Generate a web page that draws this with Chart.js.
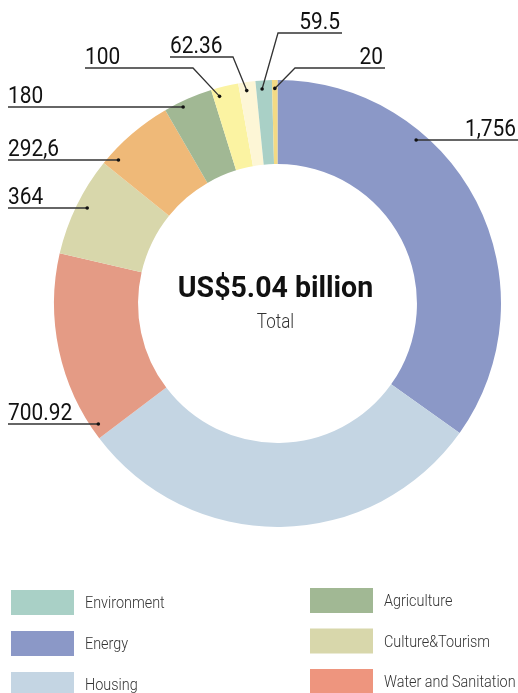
<!DOCTYPE html>
<html>
<head>
  <meta charset="UTF-8">
  <title>Investment by sector</title>
  <script src="https://cdn.jsdelivr.net/npm/chart.js"></script>
  <style>
    body { margin: 0; background: #fff; overflow: hidden; }
    canvas { display: block; }
  </style>
</head>
<body>
  <canvas id="grafico" width="518" height="693"></canvas>

  <script>
    // valores em US$ milhões, no sentido horário a partir do topo
    const categorias = ['Energy', 'Housing', 'Water and Sanitation', 'Culture&Tourism', 'Sector 5',
                        'Agriculture', 'Sector 7', 'Sector 8', 'Environment', 'Sector 10'];
    const valores = [1756, 1504.62, 700.92, 364, 292.6, 180, 100, 62.36, 59.5, 20];
    const rotulos = ['1,756', '', '700.92', '364', '292,6', '180', '100', '62.36', '59.5', '20'];
    const cores = ['#8b98c7', '#c4d5e3', '#e49b85', '#d8d7ab', '#efb978',
                   '#a1b894', '#fbf3a2', '#fdf6d6', '#a9d0c6', '#f3da84'];
    const legendaEsq = ['Environment', 'Energy', 'Housing'];
    const legendaDir = ['Agriculture', 'Culture&Tourism', 'Water and Sanitation'];
    const totalTexto = 'US$5.04 billion';
    const subTexto = 'Total';
    const unidade = '(US$ million)';

    // onde fica cada rótulo: y da linha, ponta do texto, cotovelo, fração do arco
    const guias = {
      0: { y: 140, ponta: 518, t: 0.32 },
      2: { y: 424, ponta: 8, t: 0.07 },
      3: { y: 208, ponta: 8, t: 0.57 },
      4: { y: 160, ponta: 8, t: 0.16 },
      5: { y: 107, ponta: 8, t: 0.32 },
      6: { y: 68, ponta: 85, cotovelo: 193, t: 0.23 },
      7: { y: 57, ponta: 170, cotovelo: 233, t: 0.43 },
      8: { y: 33, ponta: 342, cotovelo: 278, t: 0.37 },
      9: { y: 68, ponta: 385, cotovelo: 295, t: 0.5 }
    };

    function texto(ctx, s, x, y, fonte, cor, alinh, sx) {
      ctx.save();
      ctx.font = fonte;
      ctx.fillStyle = cor;
      ctx.textAlign = alinh;
      ctx.textBaseline = 'alphabetic';
      ctx.translate(x, y);
      ctx.scale(sx, 1);
      ctx.fillText(s, 0, 0);
      ctx.restore();
    }

    const extras = {
      id: 'extras',
      afterDraw(chart) {
        const ctx = chart.ctx;
        const arcos = chart.getDatasetMeta(0).data;
        const cx = arcos[0].x, cy = arcos[0].y;

        // título cortado no topo
        texto(ctx, unidade, 12, -5, '22px Roboto', '#3d8fdc', 'left', 1);

        // texto central
        texto(ctx, totalTexto, cx - 2, 297, 'bold 30px Roboto', '#111', 'center', 0.95);
        texto(ctx, subTexto, cx - 2, 328, '300 20px Roboto', '#333', 'center', 0.85);

        // rótulos com linhas-guia
        Object.keys(guias).forEach(k => {
          const i = +k, g = guias[k], a = arcos[i];
          const ang = a.startAngle + (a.endAngle - a.startAngle) * g.t;
          const r = a.innerRadius + (a.outerRadius - a.innerRadius) * 0.9;
          const px = cx + r * Math.cos(ang), py = cy + r * Math.sin(ang);
          const cot = g.cotovelo !== undefined ? g.cotovelo : px;

          ctx.save();
          ctx.strokeStyle = '#333';
          ctx.lineWidth = 1.3;
          ctx.beginPath();
          ctx.moveTo(g.ponta, g.y);
          ctx.lineTo(cot, g.y);
          ctx.lineTo(px, g.cotovelo !== undefined ? py : g.y);
          ctx.stroke();
          ctx.fillStyle = '#111';
          ctx.beginPath();
          ctx.arc(px, g.cotovelo !== undefined ? py : g.y, 1.8, 0, Math.PI * 2);
          ctx.fill();
          ctx.restore();

          const alinh = g.ponta < cot ? 'left' : 'right';
          const tx = alinh === 'left' ? g.ponta : g.ponta - 2;
          texto(ctx, rotulos[i], tx, g.y - 4, '24px Roboto', '#111', alinh, 0.87);
        });

        // legenda
        function item(nome, x, y) {
          const i = categorias.indexOf(nome);
          ctx.fillStyle = nome === 'Water and Sanitation' ? '#ee957e' : cores[i];
          ctx.fillRect(x, y, 63, 25);
          texto(ctx, nome, x + 74, y + 18, '300 16px Roboto', '#333', 'left', 0.9);
        }
        legendaEsq.forEach((n, j) => item(n, 11, 590 + j * 41));
        legendaDir.forEach((n, j) => item(n, 310, 588 + j * 40.5));
      }
    };

    const ctx = document.getElementById('grafico').getContext('2d');
    const chart = new Chart(ctx, {
      type: 'doughnut',
      data: {
        labels: categorias,
        datasets: [{
          data: valores,
          backgroundColor: cores,
          borderWidth: 0
        }]
      },
      options: {
        responsive: false,
        animation: false,
        cutout: '62.4%',
        layout: { padding: { left: 54, right: 17, top: 80, bottom: 166 } },
        plugins: {
          legend: { display: false },
          tooltip: { enabled: false }
        }
      },
      plugins: [extras]
    });
  </script>
</body>
</html>
